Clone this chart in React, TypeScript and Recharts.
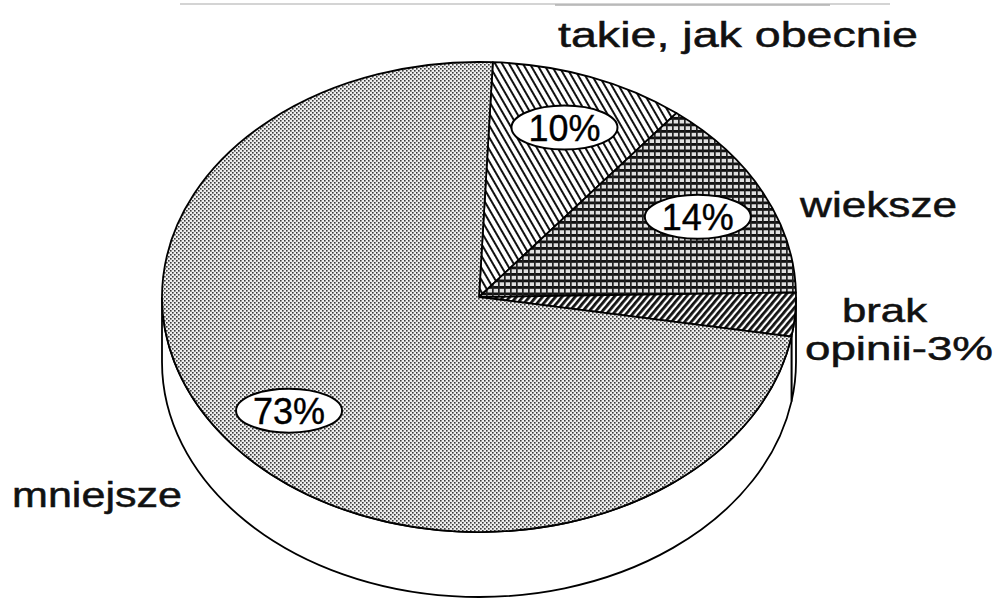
import { PieChart, Pie } from 'recharts';

const CATEGORIES = ['takie, jak obecnie', 'wieksze', 'brak opinii', 'mniejsze'];
const SHARES = [10, 14, 3, 73];
const FILLS = ['url(#hatchBack)', 'url(#grid)', 'url(#hatchFwd)', 'url(#dots)'];

const data = CATEGORIES.map((name, i) => ({ name, value: SHARES[i], fill: FILLS[i] }));

// layout of the drawing (not data)
const CX = 479;
const CY = 297;
const RX = 317;
const RY = 235;
const DEPTH = 65;
const START = 87.5;
const FONT = '"Liberation Sans", Arial, sans-serif';

const NAME_LABELS = [
  { text: 'takie, jak obecnie', x: 558, y: 47, width: 360, size: 35 },
  { text: 'wieksze', x: 800, y: 217, width: 157, size: 35 },
  { text: 'brak', x: 842, y: 322, width: 85, size: 33 },
  { text: 'opinii-3%', x: 805, y: 360, width: 188, size: 33 },
  { text: 'mniejsze', x: 12, y: 507, width: 170, size: 35 },
];

const rad = (a: number) => (a * Math.PI) / 180;

function EllipseSector(props: any) {
  const { cx, cy, outerRadius, startAngle, endAngle, fill } = props;
  const rx = outerRadius;
  const ry = (outerRadius * RY) / RX;
  const p = (a: number, dy = 0) =>
    `${cx + rx * Math.cos(rad(a))},${cy - ry * Math.sin(rad(a)) + dy}`;
  const hi = Math.max(startAngle, endAngle);
  const lo = Math.min(startAngle, endAngle);
  const large = hi - lo > 180 ? 1 : 0;
  const sweep = startAngle > endAngle ? 1 : 0;
  const top = `M${cx},${cy} L${p(startAngle)} A${rx},${ry} 0 ${large} ${sweep} ${p(endAngle)} Z`;

  // visible side wall = part of the slice lying in the front (lower) half
  const sides: string[] = [];
  [[-180, 0], [180, 360], [-540, -360]].forEach(([w0, w1]) => {
    const a = Math.max(lo, w0);
    const b = Math.min(hi, w1);
    if (b > a) {
      sides.push(
        `M${p(b)} A${rx},${ry} 0 0 1 ${p(a)} L${p(a, DEPTH)} A${rx},${ry} 0 0 0 ${p(b, DEPTH)} Z`
      );
    }
  });

  return (
    <g>
      {sides.map((d, i) => (
        <path key={i} d={d} fill="#fff" stroke="#000" strokeWidth={1.8} />
      ))}
      <path d={top} fill={fill} stroke="#000" strokeWidth={1.8} strokeLinejoin="round" />
    </g>
  );
}

function PctLabel(props: any) {
  const { cx, cy, midAngle, outerRadius, value } = props;
  if (value < 5) return null;
  const rx = outerRadius;
  const ry = (outerRadius * RY) / RX;
  const x = cx + rx * 0.77 * Math.cos(rad(midAngle));
  const y = cy - ry * 0.77 * Math.sin(rad(midAngle));
  return (
    <g>
      <ellipse cx={x} cy={y} rx={53} ry={22} fill="#fff" stroke="#000" strokeWidth={2} />
      <text
        x={x}
        y={y + 13}
        textAnchor="middle"
        fontFamily={FONT}
        fontSize={36}
        fill="#000"
        stroke="#000"
        strokeWidth={0.4}
        textLength={72}
        lengthAdjust="spacingAndGlyphs"
      >
        {`${value}%`}
      </text>
    </g>
  );
}

export default function App() {
  return (
    <div style={{ position: 'absolute', left: 0, top: 0, width: 1001, height: 605, background: '#fff' }}>
      <PieChart width={1001} height={605} margin={{ top: 0, right: 0, bottom: 0, left: 0 }}>
        <defs>
          <pattern id="dots" width={4} height={4} patternUnits="userSpaceOnUse">
            <rect width={4} height={4} fill="#eeeeee" />
            <rect x={0} y={0} width={1.6} height={1.6} fill="#3a3a3a" />
            <rect x={2} y={2} width={1.6} height={1.6} fill="#3a3a3a" />
          </pattern>
          <pattern id="hatchBack" width={6} height={6} patternUnits="userSpaceOnUse" patternTransform="rotate(-30)">
            <rect width={6} height={6} fill="#fff" />
            <rect x={0} y={0} width={2} height={6} fill="#111" />
          </pattern>
          <pattern id="grid" width={6} height={6.5} patternUnits="userSpaceOnUse">
            <rect width={6} height={6.5} fill="#e0e0e0" />
            <rect x={0} y={0} width={6} height={2.8} fill="#111" />
            <rect x={0} y={0} width={1.7} height={6.5} fill="#222" />
          </pattern>
          <pattern id="hatchFwd" width={5} height={5} patternUnits="userSpaceOnUse" patternTransform="rotate(40)">
            <rect width={5} height={5} fill="#fff" />
            <rect x={0} y={0} width={2.8} height={5} fill="#111" />
          </pattern>
        </defs>
        <Pie
          data={data}
          dataKey="value"
          nameKey="name"
          cx={CX}
          cy={CY}
          outerRadius={RX}
          startAngle={START}
          endAngle={START - 360}
          stroke="#000"
          shape={EllipseSector}
          activeShape={EllipseSector}
          inactiveShape={EllipseSector}
          label={PctLabel}
          labelLine={false}
          isAnimationActive={false}
        />
      </PieChart>
      <svg
        width={1001}
        height={605}
        style={{ position: 'absolute', left: 0, top: 0, pointerEvents: 'none' }}
      >
        <line x1={180} y1={4} x2={890} y2={4} stroke="#d4d4d4" strokeWidth={2} />
        <line x1={555} y1={5} x2={830} y2={5} stroke="#b0b0b0" strokeWidth={1.5} />
        {NAME_LABELS.map((l, i) => (
          <text
            key={i}
            x={l.x}
            y={l.y}
            fontFamily={FONT}
            fontSize={l.size}
            fill="#111"
            stroke="#111"
            strokeWidth={0.5}
            textLength={l.width}
            lengthAdjust="spacingAndGlyphs"
          >
            {l.text}
          </text>
        ))}
      </svg>
    </div>
  );
}
